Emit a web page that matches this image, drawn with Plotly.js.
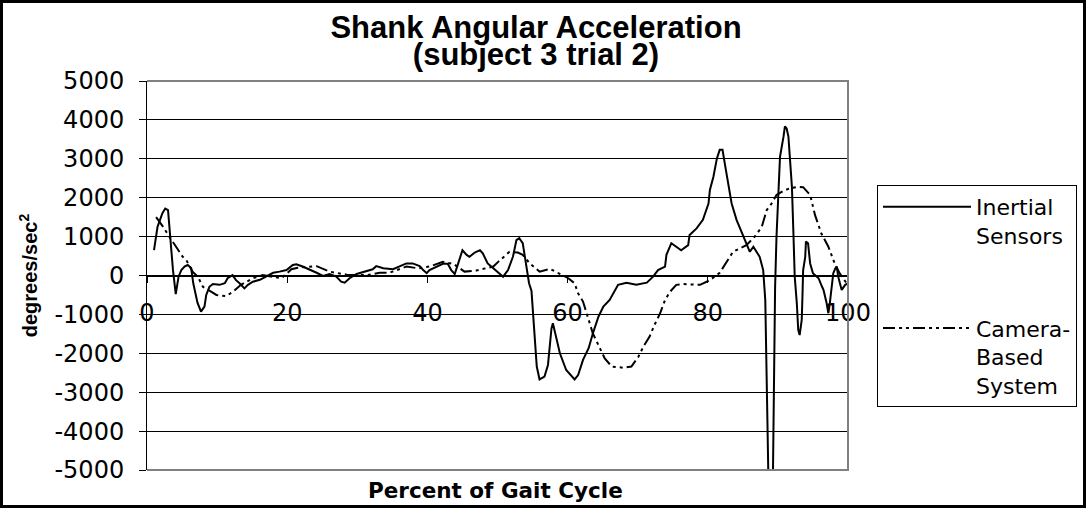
<!DOCTYPE html>
<html>
<head>
<meta charset="utf-8">
<script src="https://cdn.plot.ly/plotly-3.0.1.min.js"></script>
<style>
  html, body { margin: 0; padding: 0; background: #ffffff; }
  #chart { width: 1086px; height: 508px; }
</style>
</head>
<body>
<div id="chart"></div>
<script>
// ---- Data ----
var inertialX = [1.0, 1.5, 2.2, 2.6, 3.0, 3.3, 3.7, 4.1, 4.5, 4.9, 5.35, 5.8, 6.3, 6.6, 7.2, 7.7, 8.2, 8.45, 8.9, 9.4,
  10.35, 11.1, 11.5, 12.2, 12.7, 13.2, 13.9, 14.4, 15.1, 16.1, 17.0, 18.0, 18.9, 19.9, 20.8, 21.3, 22.2, 23.2, 24.2, 25.1,
  26.05, 27.0, 27.7, 28.2, 28.9, 29.9, 31.3, 32.2, 32.7, 33.7, 35.1, 36.0, 37.0, 37.9, 38.9, 39.4, 39.9, 40.3, 41.3, 42.2,
  42.9, 43.4, 43.9, 44.4, 45.0, 45.6, 46.0, 46.75, 47.5, 47.9, 48.6, 49.4, 50.3, 50.8, 51.5, 52.2, 52.7, 53.1, 53.6, 54.0,
  54.5, 54.85, 55.1, 55.3, 55.6, 56.0, 56.7, 57.2, 57.5, 57.7, 57.9, 58.3, 58.9, 59.8, 61.0, 61.5, 62.2, 63.0, 63.6, 64.4,
  65.1, 66.0, 66.7, 67.2, 68.4, 69.8, 71.3, 72.2, 72.9, 73.9, 74.1, 74.8, 75.5, 76.2, 77.2, 77.4, 78.4, 79.3, 80.1, 80.3,
  80.8, 81.3, 81.7, 82.1, 82.5, 82.9, 83.4, 84.1, 85.05, 85.5, 86.0, 86.5, 87.0, 87.4, 87.9, 88.2, 88.5, 88.65, 89.0, 89.3,
  89.45, 89.6, 89.8, 90.05, 90.3, 90.8, 91.0, 91.25, 91.5, 91.7, 92.0, 92.2, 92.4, 92.7, 92.9, 93.1, 93.4, 93.5, 93.6, 93.9,
  94.0, 94.3, 94.6, 95.0, 95.8, 96.3, 96.5, 96.96, 97.2, 97.4, 97.7, 97.9, 98.2, 98.4, 98.6, 99.1, 99.6, 100.0];
var inertialY = [650, 1250, 1600, 1720, 1680, 1000, 150, -480, -30, 140, 230, 270, 190, -200, -700, -930, -800, -500, -290, -220,
  -240, -200, -70, 10, -120, -200, -330, -240, -160, -110, -30, 70, 100, 140, 270, 290, 230, 160, 70, -10,
  40, -30, -160, -185, -70, 40, 120, 160, 240, 185, 160, 240, 310, 310, 240, 140, 60, 140, 230, 300,
  300, 140, 40, 310, 650, 530, 480, 590, 650, 570, 310, 185, 60, -30, 140, 480, 910, 960, 830, 400,
  -200, -400, -1140, -1740, -2340, -2670, -2600, -2300, -1740, -1360, -1230, -1570, -2000, -2430, -2670, -2560, -2170, -1870, -1490, -1060,
  -800, -630, -420, -240, -185, -240, -185, -30, 140, 230, 530, 830, 740, 650, 780, 1040, 1210, 1430, 1850, 2200,
  2540, 3010, 3230, 3230, 2800, 2370, 1850, 1430, 1040, 830, 610, 740, 590, 480, 140, -630, -3700, -5200, -9000, -5000,
  -2000, -300, 1000, 2280, 3050, 3570, 3830, 3780, 3570, 3050, 2280, 1170, -30, -720, -1400, -1530, -1140, -550, 140, 480,
  870, 830, 310, 60, -70, -290, -370, -720, -970, -720, -200, 60, 185, 230, -30, -370, -240, -200];

var cameraX = [1.3, 1.8, 2.3, 3.0, 4.2, 5.1, 5.6, 6.5, 7.25, 7.97, 9.2, 9.9, 11.3, 12.25, 13.4, 14.2, 15.1, 16.5, 17.96, 19.2,
  20.6, 21.5, 24.2, 26.05, 28.5, 31.3, 33.2, 34.6, 37.0, 38.7, 40.3, 42.2, 43.7, 45.3, 47.0, 49.4, 50.1, 51.7, 52.9, 53.6,
  54.6, 56.0, 57.5, 58.9, 60.1, 61.0, 61.5, 62.2, 62.9, 63.6, 64.4, 65.3, 66.3, 67.9, 69.1, 70.1, 70.8, 71.7, 72.4, 73.2,
  73.9, 74.6, 75.5, 76.5, 78.9, 80.3, 81.7, 82.6, 83.6, 85.5, 86.7, 87.7, 88.4, 89.1, 89.8, 90.8, 91.7, 92.9, 93.6, 94.6,
  95.3, 96.2, 97.2, 98.1, 98.8, 99.8];
var cameraY = [1500, 1380, 1250, 1050, 740, 480, 400, 100, -30, -290, -420, -500, -530, -420, -240, -160, -70, 10, -30, -70,
  160, 200, 240, 100, 20, 10, 70, 70, 230, 185, 230, 350, 300, 100, 130, 230, 350, 610, 590, 530,
  310, 100, 170, 40, -70, -200, -460, -670, -1100, -1490, -1790, -2130, -2340, -2370, -2340, -2090, -1830, -1570, -1270, -970,
  -630, -420, -240, -220, -240, -120, 70, 310, 610, 780, 1000, 1250, 1680, 1850, 2070, 2180, 2240, 2280, 2270, 2070,
  1550, 1080, 740, 310, 60, -200];

var seriesNames = ["Inertial<br>Sensors", "Camera-<br>Based<br>System"];
var xTickVals = [0, 20, 40, 60, 80, 100];
var xTickText = ["0", "20", "40", "60", "80", "100"];
var yTickVals = [-5000, -4000, -3000, -2000, -1000, 0, 1000, 2000, 3000, 4000, 5000];
var yTickText = ["-5000", "-4000", "-3000", "-2000", "-1000", "0", "1000", "2000", "3000", "4000", "5000"];
var chartTitle = ["Shank Angular Acceleration", "(subject 3 trial 2)"];
var xTitle = "Percent of Gait Cycle";
var yTitle = "degrees/sec<sup>2</sup>";

// ---- Layout geometry ----
var W = 1086, H = 508;
var mL = 147, mR = 238, mT = 81, mB = 38;
var pw = W - mL - mR, ph = H - mT - mB;
function px2x(p) { return (p - mL) / pw; }
function py2y(p) { return (H - mB - p) / ph; }

var ARIAL = "Liberation Sans, Arial, sans-serif";
var DEJAVU = "DejaVu Sans, sans-serif";

var traces = [
  {
    x: inertialX, y: inertialY, type: "scatter", mode: "lines",
    name: seriesNames[0], legendgroup: "a",
    line: { color: "#000000", width: 2 }
  },
  {
    x: cameraX, y: cameraY, type: "scatter", mode: "lines",
    name: seriesNames[1], legendgroup: "b",
    line: { color: "#000000", width: 2, dash: "12px,4px,3px,4px,3px,4px" }
  }
];

var big = '<span style="font-size:31px">';
var layout = {
  width: W, height: H,
  margin: { l: mL, r: mR, t: mT, b: mB, autoexpand: false },
  paper_bgcolor: "#ffffff",
  plot_bgcolor: "#ffffff",
  showlegend: true,
  title: {
    text: '<b>' + big + chartTitle[0] + '</span><br>' + big + chartTitle[1] + '</span></b>',
    font: { family: ARIAL, size: 21, color: "#000000" },
    xref: "container", x: 536 / W, xanchor: "center",
    yref: "container", y: 1 - 38 / H, yanchor: "top"
  },
  xaxis: {
    range: [0, 100],
    anchor: "free", position: 0.5,
    tickvals: xTickVals, ticktext: xTickText,
    ticks: "outside", ticklen: 6, tickwidth: 1, tickcolor: "#000000",
    ticklabelstandoff: 10,
    showline: true, linecolor: "#000000", linewidth: 1,
    showgrid: false, zeroline: false,
    tickfont: { family: DEJAVU, size: 24, color: "#000000" }
  },
  yaxis: {
    range: [-5000, 5000],
    tickvals: yTickVals, ticktext: yTickText,
    ticks: "outside", ticklen: 7, tickwidth: 1, tickcolor: "#000000",
    ticklabelstandoff: 10,
    showline: true, linecolor: "#000000", linewidth: 1,
    showgrid: true, gridcolor: "#000000", gridwidth: 1,
    zeroline: false,
    tickfont: { family: DEJAVU, size: 24, color: "#000000" },
    title: { text: "<b>" + yTitle + "</b>", font: { family: ARIAL, size: 20, color: "#000000" }, standoff: 11 }
  },
  annotations: [
    { text: "<b>" + xTitle + "</b>", xref: "paper", yref: "paper",
      x: px2x(495), y: py2y(490), xanchor: "center", yanchor: "middle",
      showarrow: false, font: { family: DEJAVU, size: 21.5, color: "#000000" } }
  ],
  legend: {
    x: px2x(877), xanchor: "left",
    y: py2y(185), yanchor: "top",
    bgcolor: "#ffffff", bordercolor: "#000000", borderwidth: 1,
    font: { family: DEJAVU, size: 22, color: "#000000" },
    itemwidth: 88, valign: "top",
    traceorder: "grouped", tracegroupgap: 61
  },
  shapes: [
    { type: "path", xref: "paper", yref: "paper", layer: "above",
      path: "M0,1 L1,1 L1,0 L0,0",
      line: { color: "#808080", width: 2 } },
    { type: "rect", xref: "paper", yref: "paper", layer: "above",
      x0: px2x(1.5), x1: px2x(W - 1.5), y0: py2y(H - 1.5), y1: py2y(1.5),
      line: { color: "#000000", width: 3 }, fillcolor: "rgba(0,0,0,0)" }
  ]
};

Plotly.newPlot("chart", traces, layout, { displayModeBar: false, responsive: false });
</script>
</body>
</html>
